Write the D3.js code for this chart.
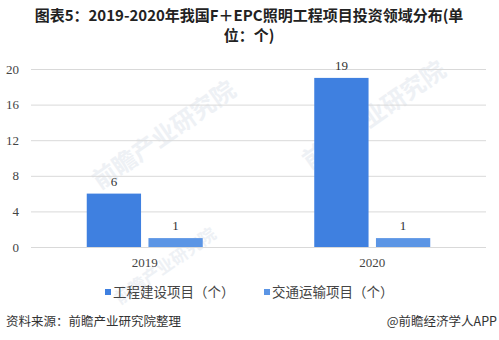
<!DOCTYPE html>
<html>
<head>
<meta charset="utf-8">
<script src="https://cdn.jsdelivr.net/npm/d3@7"></script>
<style>
  html, body { margin: 0; padding: 0; background: #ffffff; }
  svg { display: block; }
</style>
</head>
<body>
<svg id="chart" width="499" height="340"></svg>
<script>
// Investment fields of F+EPC lighting projects, 2019-2020 (count)
const years = ["2019", "2020"];
const seriesNames = ["工程建设项目（个）", "交通运输项目（个）"];
const engineering = [6, 19];
const transport = [1, 1];
const yTicks = [0, 4, 8, 12, 16, 20];
const colors = ["#3f80e0", "#5b95e5"];

const svg = d3.select("#chart");
const W = 499, H = 340;
const m = { left: 31, right: 13, top: 69, bottom: 93 };
const cjk = "'Microsoft YaHei','Noto Sans CJK SC',sans-serif";
const serif = "'Liberation Serif','DejaVu Serif',serif";

// Faint watermark
const wm = svg.append("g").attr("fill", "#eef1f5").attr("font-family", cjk).attr("font-weight", "bold");
[[100, 190, 24], [310, 170, 24], [120, 305, 17]].forEach(([x, y, s]) => {
  wm.append("text").attr("transform", `translate(${x},${y}) rotate(-35)`)
    .attr("font-size", s).text("前瞻产业研究院");
});

// Title (two lines)
const titleLines = ["图表5：2019-2020年我国F＋EPC照明工程项目投资领域分布(单", "位：个)"];
svg.append("g").selectAll("text").data(titleLines).join("text")
  .attr("x", 249).attr("y", (d, i) => 21 + i * 20)
  .attr("text-anchor", "middle").attr("font-family", cjk)
  .attr("font-weight", "bold").attr("font-size", 15).attr("fill", "#222")
  .text(d => d);

const x0 = d3.scaleBand().domain(years).range([m.left, W - m.right]);
const x1 = d3.scaleBand().domain([0, 1]).range([0, 116]).paddingInner(0.12);
const y = d3.scaleLinear().domain([0, 20]).range([H - m.bottom, m.top]);

// Gridlines and y tick labels
const yAxis = d3.axisLeft(y).tickValues(yTicks).tickSize(-(W - m.left - m.right)).tickPadding(12);
const gy = svg.append("g").attr("transform", `translate(${m.left},0)`).call(yAxis);
gy.select(".domain").remove();
gy.selectAll(".tick line").attr("stroke", "#d9d9d9");
gy.selectAll(".tick text").attr("font-family", serif).attr("font-size", 13).attr("fill", "#444");

// Bars
const data = years.map((yr, i) => ({ yr, vals: [engineering[i], transport[i]] }));
const groups = svg.append("g").selectAll("g").data(data).join("g")
  .attr("transform", d => `translate(${x0(d.yr) + (x0.bandwidth() - 116) / 2},0)`);
groups.selectAll("rect").data(d => d.vals.map((v, k) => ({ v, k })))
  .join("rect")
  .attr("x", d => x1(d.k)).attr("width", x1.bandwidth())
  .attr("y", d => y(d.v)).attr("height", d => y(0) - y(d.v))
  .attr("fill", d => colors[d.k]);
groups.selectAll("text").data(d => d.vals.map((v, k) => ({ v, k })))
  .join("text")
  .attr("x", d => x1(d.k) + x1.bandwidth() / 2).attr("y", d => y(d.v) - 8)
  .attr("text-anchor", "middle").attr("font-family", serif).attr("font-size", 13).attr("fill", "#333")
  .text(d => d.v);

// Category axis labels
const xAxis = d3.axisBottom(x0).tickSize(0).tickPadding(11);
const gx = svg.append("g").attr("transform", `translate(0,${y(0)})`).call(xAxis);
gx.select(".domain").remove();
gx.selectAll(".tick text").attr("font-family", serif).attr("font-size", 13).attr("fill", "#444");

// Legend
const legendX = [105, 264];
const lg = svg.append("g").selectAll("g").data(seriesNames).join("g")
  .attr("transform", (d, i) => `translate(${legendX[i]},292)`);
lg.append("rect").attr("x", 0).attr("y", -3).attr("width", 6).attr("height", 6).attr("fill", (d, i) => colors[i]);
lg.append("text").attr("x", 8).attr("y", 5).attr("font-family", cjk).attr("font-size", 13.5)
  .attr("fill", "#444").text(d => d);

// Footer
svg.append("text").attr("x", 6).attr("y", 326).attr("font-family", cjk).attr("font-size", 12.5)
  .attr("fill", "#333").text("资料来源：前瞻产业研究院整理");
svg.append("text").attr("x", 497).attr("y", 326).attr("text-anchor", "end").attr("font-family", cjk)
  .attr("font-size", 12.5).attr("fill", "#333").text("@前瞻经济学人APP");
</script>
</body>
</html>
